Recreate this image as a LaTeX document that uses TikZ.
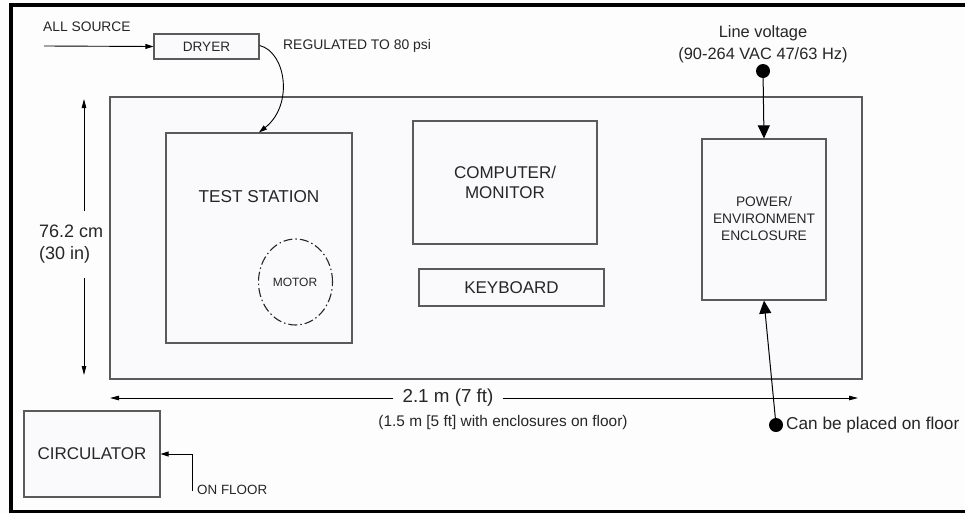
\documentclass[tikz,border=0pt]{standalone}
\usepackage{fontspec}
\setmainfont{Liberation Sans}
\usetikzlibrary{arrows.meta,shapes.geometric}
\definecolor{boxfill}{HTML}{FAFAFC}
\definecolor{boxline}{HTML}{5A5A5A}
\definecolor{txt}{HTML}{262626}
\definecolor{bg}{HTML}{FDFDFD}
\tikzset{
  box/.style={draw=boxline, fill=boxfill, line width=1.2pt, inner sep=0pt},
  lbl/.style={text=txt, inner sep=0pt, align=center},
  conn/.style={draw=black, line width=0.9pt, -{Triangle[length=8pt,width=5pt]}},
  bigconn/.style={draw=black, line width=1pt, -{Triangle[length=13pt,width=12pt]}},
  dim/.style={draw=black, line width=0.9pt, -{Triangle[length=9pt,width=4.5pt]}},
  dotnode/.style={circle, fill=black, minimum size=14pt, inner sep=0pt},
  motorstyle/.style={draw=txt, line width=1.1pt, dash pattern=on 9pt off 3pt on 1.5pt off 3pt}
}
\newcommand{\fs}[2]{\fontsize{#1}{#2}\selectfont}
\begin{document}
\begin{tikzpicture}[x=1pt,y=-1pt]
\useasboundingbox (0,0) rectangle (965,514);
\fill[bg] (0,0) rectangle (965,514);
% frame
\draw[line width=3.8pt] (965,5) -- (11,5) -- (11,511.5) -- (965,511.5);

% table
\node[box, minimum width=752pt, minimum height=282pt] (table) at (486,238) {};
% boxes
\node[box, minimum width=186pt, minimum height=210pt] (ts) at (259,238) {};
\node[lbl, font=\fs{17.2}{20}] (tslbl) at (259,197) {TEST STATION};
\node[ellipse, motorstyle, minimum width=74pt, minimum height=86pt, inner sep=0pt] (motor) at (295.5,282) {};
\node[lbl, font=\fs{12}{14}] (motorlbl) at (295,282) {MOTOR};
\node[box, minimum width=184pt, minimum height=123pt] (comp) at (505,182.5) {};
\node[lbl, font=\fs{17}{20}] (complbl) at (505,182) {COMPUTER/\\MONITOR};
\node[box, minimum width=185pt, minimum height=37pt, font=\fs{17}{20}, text=txt] (kb) at (511.5,287.5) {KEYBOARD};
\node[box, minimum width=124pt, minimum height=161pt] (pw) at (764,219.5) {};
\node[lbl, font=\fs{13.8}{16.7}] (pwlbl) at (764,218.5) {POWER/\\ENVIRONMENT\\ENCLOSURE};
\node[box, minimum width=105pt, minimum height=25pt, font=\fs{13.6}{16}, text=txt] (dryer) at (206.5,46.5) {DRYER};
\node[box, minimum width=136pt, minimum height=86pt, font=\fs{17}{20}, text=txt] (circ) at (92,454) {CIRCULATOR};

% air source
\node[lbl, font=\fs{13.8}{16}, anchor=west] (allsrc) at (43,27) {ALL SOURCE};
\coordinate (airin) at (44,46);
\draw[conn] (airin) -- (dryer.west);
\node[lbl, font=\fs{13.9}{16}, anchor=west] (reg) at (283,46) {REGULATED TO 80 psi};
\draw[conn] ([yshift=1pt]dryer.east) .. controls (286,52) and (294,105) .. (ts.north);

% line voltage
\node[lbl, font=\fs{16.4}{22}] (lv) at (763,44) {Line voltage\\(90-264 VAC 47/63 Hz)};
\node[dotnode] (lvdot) at (763,71) {};
\draw[bigconn] (lvdot.center) -- (pw.north);

% floor dot
\node[dotnode] (fdot) at (776,425) {};
\node[lbl, font=\fs{17.2}{20}, anchor=west] (floorlbl) at (786,425) {Can be placed on floor};
\draw[bigconn] (fdot.center) -- (pw.south);

% horizontal dimension
\coordinate (hl) at (110,398);
\coordinate (hr) at (858,398);
\node[lbl, font=\fs{18.8}{20}, inner xsep=9pt] (hlbl) at (448,398) {2.1 m (7 ft)};
\draw[dim] (hlbl.west) -- (hl);
\draw[dim] (hlbl.east) -- (hr);
\node[lbl, font=\fs{15.4}{20}] (hlbl2) at (503,423) {(1.5 m [5 ft] with enclosures on floor)};

% vertical dimension
\coordinate (vt) at (84,99);
\coordinate (vb) at (84,375);
\coordinate (vg1) at (84,211);
\coordinate (vg2) at (84,278);
\draw[dim] (vg1) -- (vt);
\draw[dim] (vg2) -- (vb);
\node[lbl, font=\fs{18}{22}, align=left, anchor=west] (vlbl) at (39,244) {76.2 cm\\(30 in)};

% circulator feed
\coordinate (cf) at (192,491);
\draw[conn] (cf) |- (circ.east);
\node[lbl, font=\fs{13.4}{16}, anchor=west] (onfloor) at (197,490) {ON FLOOR};
\end{tikzpicture}
\end{document}
